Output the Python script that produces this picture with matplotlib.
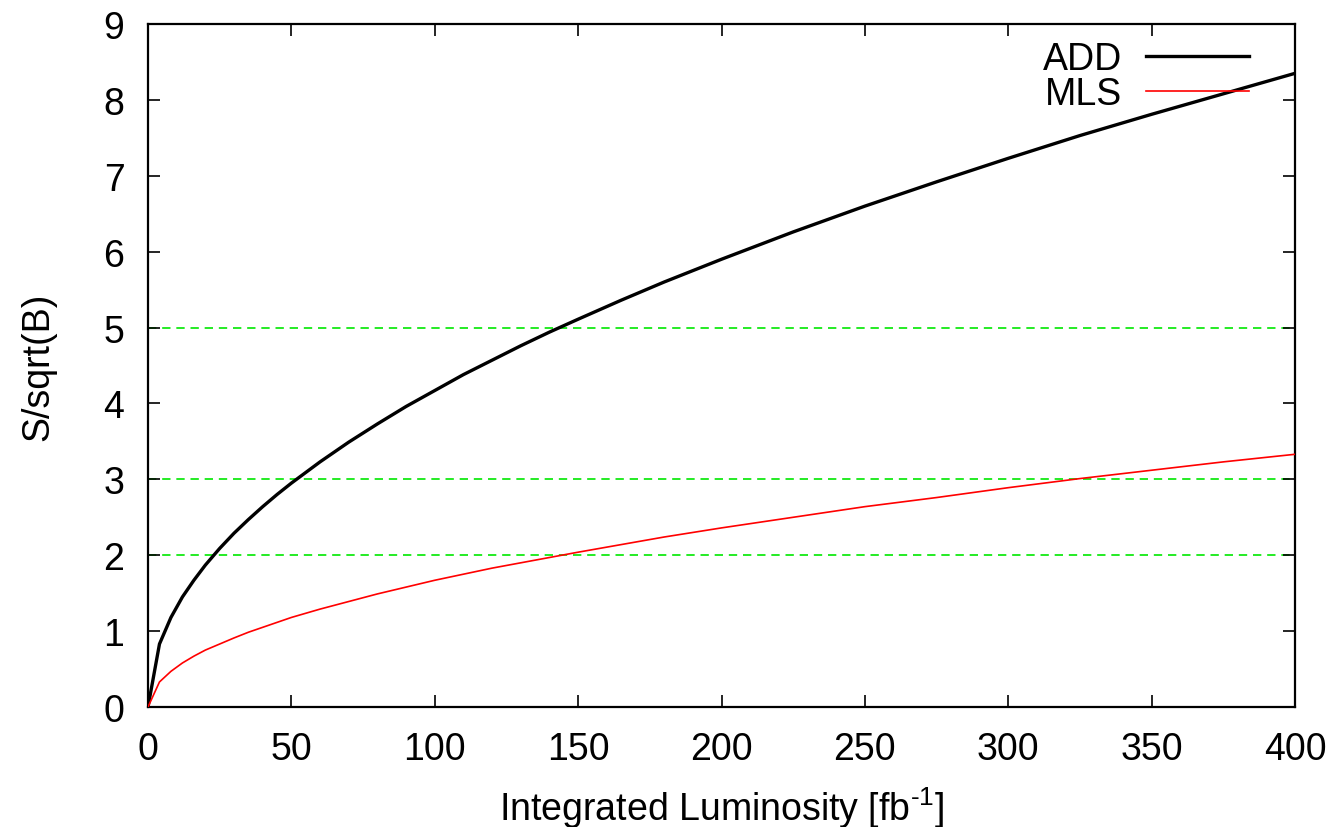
import matplotlib
matplotlib.use("Agg")
import matplotlib.pyplot as plt

plt.rcParams['font.family'] = ['Liberation Sans', 'DejaVu Sans']
plt.rcParams['mathtext.fontset'] = 'custom'
plt.rcParams['mathtext.rm'] = 'Liberation Sans'
plt.rcParams['mathtext.it'] = 'Liberation Sans'
plt.rcParams['mathtext.default'] = 'regular'

lumi = [0, 4, 8, 12, 16, 20, 25, 30, 35, 40, 45, 50, 60, 70, 80, 90, 100,
        110, 120, 130, 140, 150, 165, 180, 200, 225, 250, 275, 300, 325,
        350, 375, 400]
add_sig = [0, 0.83, 1.18, 1.45, 1.67, 1.87, 2.09, 2.29, 2.47, 2.64, 2.80,
           2.95, 3.23, 3.49, 3.73, 3.96, 4.17, 4.38, 4.57, 4.76, 4.94, 5.11,
           5.36, 5.60, 5.90, 6.26, 6.60, 6.92, 7.23, 7.53, 7.81, 8.08, 8.35]
mls_sig = [0, 0.33, 0.47, 0.58, 0.67, 0.75, 0.83, 0.91, 0.985, 1.05, 1.115,
           1.18, 1.29, 1.39, 1.49, 1.58, 1.67, 1.75, 1.83, 1.90, 1.97, 2.04,
           2.14, 2.24, 2.36, 2.50, 2.64, 2.76, 2.89, 3.01, 3.12, 3.23, 3.33]
ref_levels = [2, 3, 5]
xticks = [0, 50, 100, 150, 200, 250, 300, 350, 400]
yticks = [0, 1, 2, 3, 4, 5, 6, 7, 8, 9]

fig = plt.figure(figsize=(13.35, 8.28), dpi=100)
ax = fig.add_axes([148/1335, 1-708/828, (1295-148)/1335, (708-25)/828])

for lv in ref_levels:
    ax.axhline(lv, color='#00e800', lw=1.2, ls=(0, (5, 3.5)), zorder=1)

ax.plot(lumi, add_sig, color='black', lw=2.4, label='ADD', zorder=3)
ax.plot(lumi, mls_sig, color='#ff0000', lw=1.2, label='MLS', zorder=3)

ax.set_xlim(0, 400)
ax.set_ylim(0, 9)
ax.set_xticks(xticks)
ax.set_yticks(yticks)
ax.tick_params(direction='in', length=8.5, width=1.2, labelsize=27,
               top=True, right=True)
ax.tick_params(axis='x', pad=17.5)
ax.tick_params(axis='y', pad=17)
for s in ax.spines.values():
    s.set_linewidth(1.6)

ax.set_xlabel(r'Integrated Luminosity [fb$^{\text{-}1}$]', fontsize=27, labelpad=12)
ax.set_ylabel('S/sqrt(B)', fontsize=27, labelpad=34)

leg = ax.legend(loc='upper right', frameon=False, fontsize=27, markerfirst=False,
                handlelength=2.75, handletextpad=0.64, labelspacing=-0.02,
                borderaxespad=0.0, borderpad=0.0,
                bbox_to_anchor=((1249-148)/1147, (708-42)/683))

fig.savefig('out.png', dpi=100)
